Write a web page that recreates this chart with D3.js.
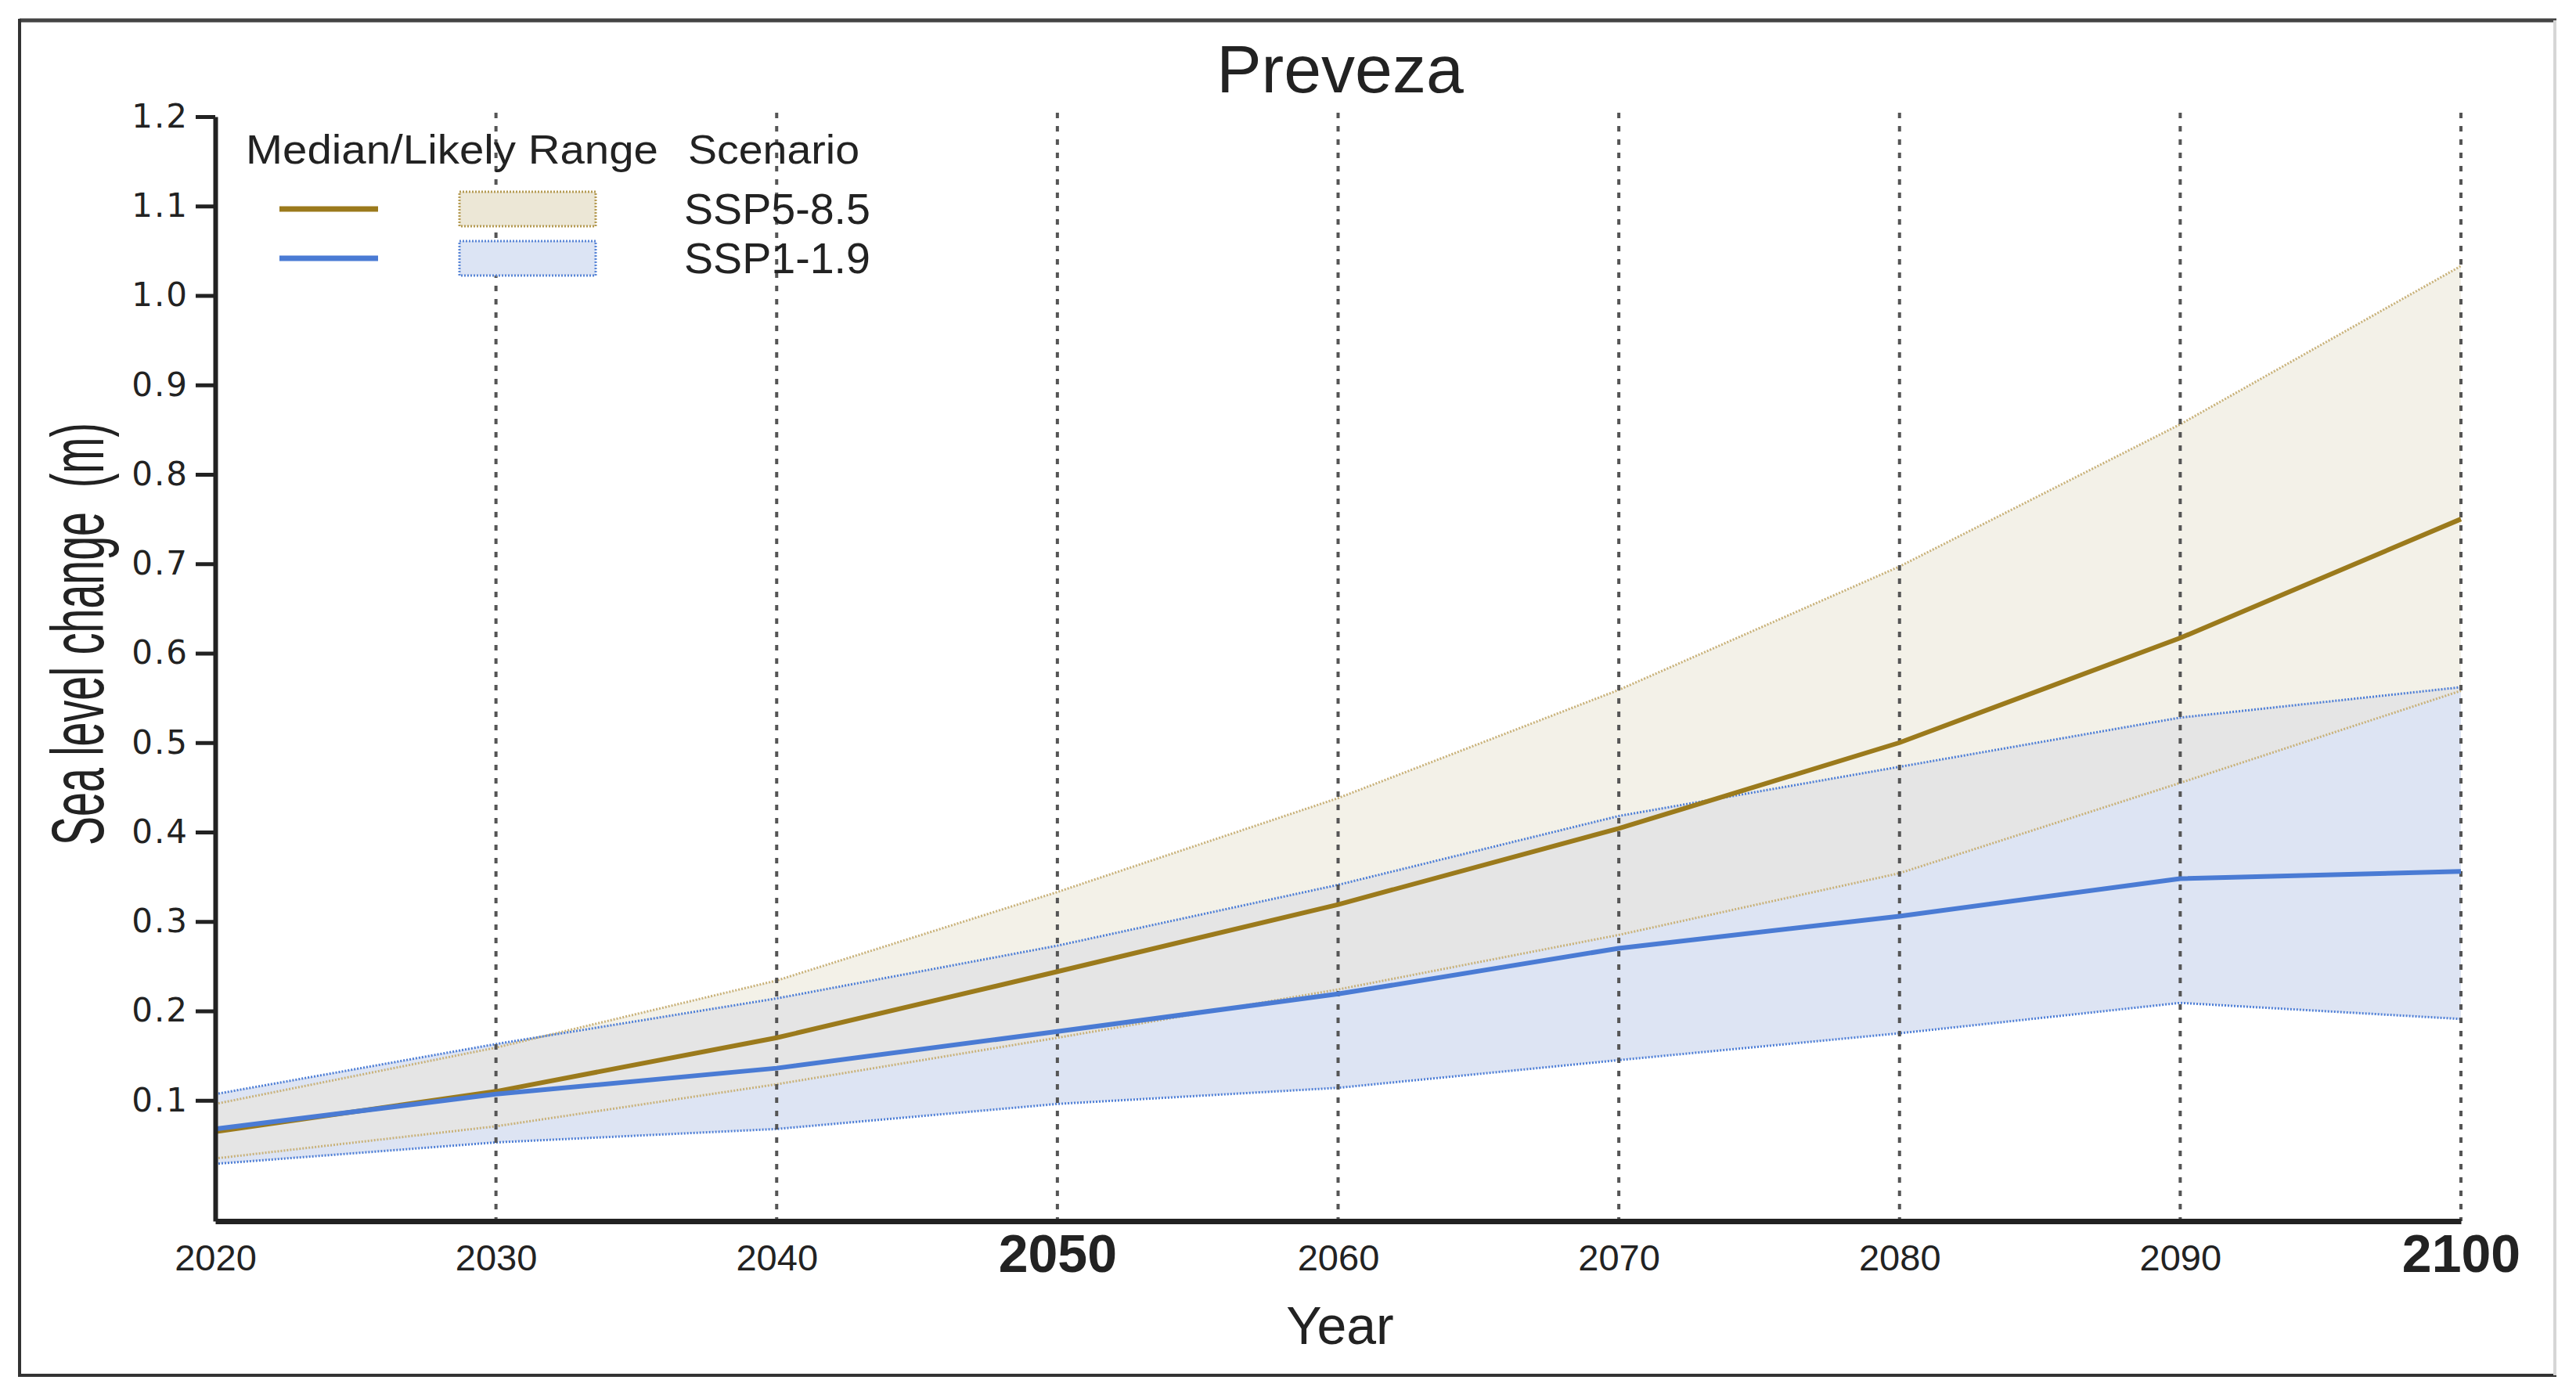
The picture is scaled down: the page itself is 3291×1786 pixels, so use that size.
<!DOCTYPE html>
<html>
<head>
<meta charset="utf-8">
<script src="https://cdn.jsdelivr.net/npm/d3@7"></script>
<style>
  body { margin: 0; background: #fff; }
  text { font-family: "Liberation Sans", Arial, sans-serif; fill: #222; }
</style>
</head>
<body>
<div id="chart"></div>
<script>
// Data
var years = [2020, 2030, 2040, 2050, 2060, 2070, 2080, 2090, 2100];
var ssp585Median = [0.065, 0.110, 0.170, 0.244, 0.319, 0.404, 0.500, 0.617, 0.750];
var ssp585Upper  = [0.096, 0.159, 0.234, 0.333, 0.438, 0.559, 0.697, 0.856, 1.033];
var ssp585Lower  = [0.035, 0.071, 0.118, 0.170, 0.224, 0.285, 0.354, 0.455, 0.558];
var ssp119Median = [0.068, 0.107, 0.136, 0.177, 0.219, 0.270, 0.306, 0.348, 0.356];
var ssp119Upper  = [0.107, 0.163, 0.214, 0.273, 0.341, 0.418, 0.473, 0.528, 0.562];
var ssp119Lower  = [0.029, 0.053, 0.068, 0.096, 0.114, 0.145, 0.175, 0.209, 0.191];
var yTicks = [0.1, 0.2, 0.3, 0.4, 0.5, 0.6, 0.7, 0.8, 0.9, 1.0, 1.1, 1.2];
var boldYears = [2050, 2100];

var svgWidth = 3291;
var svgHeight = 1786;

var svg = d3.select("#chart")
  .append("svg")
  .attr("width", svgWidth)
  .attr("height", svgHeight);

// Frame
var frame = svg.append("g");
frame.append("line").attr("x1", 25).attr("y1", 26).attr("x2", 3266).attr("y2", 26)
  .attr("stroke", "#444").attr("stroke-width", 5);
frame.append("line").attr("x1", 25).attr("y1", 24).attr("x2", 25).attr("y2", 1759)
  .attr("stroke", "#333").attr("stroke-width", 4);
frame.append("line").attr("x1", 23).attr("y1", 1757).attr("x2", 3266).attr("y2", 1757)
  .attr("stroke", "#333").attr("stroke-width", 4);
frame.append("line").attr("x1", 3264).attr("y1", 26).attr("x2", 3264).attr("y2", 1757)
  .attr("stroke", "#d6d6d6").attr("stroke-width", 4);

// Scales
var xScale = d3.scaleLinear().domain([2020, 2100]).range([275, 3144]);
var yScale = d3.scaleLinear().domain([-0.035, 1.2]).range([1560, 149]);

function rows(lower, upper) {
  return years.map(function(yr, i) { return { year: yr, lo: lower[i], hi: upper[i] }; });
}
var band585 = rows(ssp585Lower, ssp585Upper);
var band119 = rows(ssp119Lower, ssp119Upper);

var area = d3.area()
  .x(d => xScale(d.year))
  .y0(d => yScale(d.lo))
  .y1(d => yScale(d.hi));

var line = d3.line()
  .x(d => xScale(d[0]))
  .y(d => yScale(d[1]));

function pairs(vals) { return years.map((yr, i) => [yr, vals[i]]); }

// Clip for overlap of the two ranges
svg.append("defs").append("clipPath").attr("id", "clip119")
  .append("path").attr("d", area(band119));

var plot = svg.append("g");

plot.append("path").attr("d", area(band585)).attr("fill", "#f3f1e8");
plot.append("path").attr("d", area(band119)).attr("fill", "#dde4f3");
plot.append("path").attr("d", area(band585)).attr("fill", "#e5e5e5")
  .attr("clip-path", "url(#clip119)");

// Range edges (dotted)
[ssp585Upper, ssp585Lower].forEach(function(v) {
  plot.append("path").attr("d", line(pairs(v)))
    .attr("fill", "none").attr("stroke", "#c9b27a")
    .attr("stroke-width", 3).attr("stroke-dasharray", "2,2");
});
[ssp119Upper, ssp119Lower].forEach(function(v) {
  plot.append("path").attr("d", line(pairs(v)))
    .attr("fill", "none").attr("stroke", "#4f7fd6")
    .attr("stroke-width", 3).attr("stroke-dasharray", "2,2");
});

// Vertical dashed grid
plot.selectAll(".grid")
  .data(years.slice(1))
  .enter()
  .append("line")
  .attr("x1", d => xScale(d)).attr("x2", d => xScale(d))
  .attr("y1", yScale(1.2) - 5).attr("y2", yScale(-0.035))
  .attr("stroke", "#555").attr("stroke-width", 4)
  .attr("stroke-dasharray", "7,10");

// Median lines
plot.append("path").attr("d", line(pairs(ssp585Median)))
  .attr("fill", "none").attr("stroke", "#9b7a1c").attr("stroke-width", 6);
plot.append("path").attr("d", line(pairs(ssp119Median)))
  .attr("fill", "none").attr("stroke", "#4a7bd4").attr("stroke-width", 6);

// Axes
var leftAxis = d3.axisLeft(yScale)
  .tickValues(yTicks)
  .tickSize(25)
  .tickSizeOuter(0)
  .tickPadding(9)
  .tickFormat(d3.format(".1f"));

var yAxis = svg.append("g")
  .attr("transform", "translate(275,0)")
  .call(leftAxis);
yAxis.select(".domain").attr("stroke", "#222").attr("stroke-width", 6);
yAxis.selectAll(".tick line").attr("stroke", "#222").attr("stroke-width", 5);
yAxis.selectAll(".tick text")
  .style("font-family", "'DejaVu Sans', Verdana, sans-serif")
  .attr("font-size", 42)
  .attr("letter-spacing", 2)
  .attr("fill", "#222");

var bottomAxis = d3.axisBottom(xScale)
  .tickValues(years)
  .tickSize(0)
  .tickSizeOuter(0)
  .tickFormat(d3.format("d"));

var xAxis = svg.append("g")
  .attr("transform", "translate(0,1560)")
  .call(bottomAxis);
xAxis.select(".domain").attr("stroke", "#222").attr("stroke-width", 7);
xAxis.selectAll(".tick text")
  .attr("dy", 0)
  .attr("y", d => boldYears.includes(d) ? 65 : 63)
  .attr("font-size", d => boldYears.includes(d) ? 68 : 47)
  .attr("font-weight", d => boldYears.includes(d) ? "bold" : "normal")
  .attr("fill", "#222");

// Title and axis labels
svg.append("text")
  .attr("x", 1712).attr("y", 118)
  .attr("text-anchor", "middle")
  .attr("font-size", 86)
  .text("Preveza");

svg.append("text")
  .attr("x", 1712).attr("y", 1717)
  .attr("text-anchor", "middle")
  .attr("font-size", 68)
  .text("Year");

svg.append("text")
  .attr("transform", "translate(132,810) rotate(-90)")
  .attr("text-anchor", "middle")
  .attr("font-size", 94)
  .attr("textLength", 540)
  .attr("lengthAdjust", "spacingAndGlyphs")
  .style("white-space", "pre")
  .text("Sea level change  (m)");

// Legend
var legend = svg.append("g");
legend.append("text").attr("x", 314).attr("y", 209)
  .attr("font-size", 52)
  .attr("textLength", 527).attr("lengthAdjust", "spacingAndGlyphs")
  .text("Median/Likely Range");
legend.append("text").attr("x", 879).attr("y", 209)
  .attr("font-size", 52)
  .attr("textLength", 219).attr("lengthAdjust", "spacingAndGlyphs")
  .text("Scenario");

var legendRows = [
  { name: "SSP5-8.5", line: "#9b7a1c", fill: "#ece7d6", edge: "#b49a52", y: 267 },
  { name: "SSP1-1.9", line: "#4a7bd4", fill: "#dce4f4", edge: "#5a86d6", y: 330 }
];

legendRows.forEach(function(r) {
  legend.append("line")
    .attr("x1", 357).attr("x2", 483).attr("y1", r.y).attr("y2", r.y)
    .attr("stroke", r.line).attr("stroke-width", 7);
  legend.append("rect")
    .attr("x", 587).attr("y", r.y - 22).attr("width", 174).attr("height", 44)
    .attr("fill", r.fill).attr("stroke", r.edge)
    .attr("stroke-width", 3).attr("stroke-dasharray", "2,2");
  legend.append("text")
    .attr("x", 874).attr("y", r.y + 19)
    .attr("font-size", 55)
    .attr("textLength", 238).attr("lengthAdjust", "spacingAndGlyphs")
    .text(r.name);
});
</script>
</body>
</html>
